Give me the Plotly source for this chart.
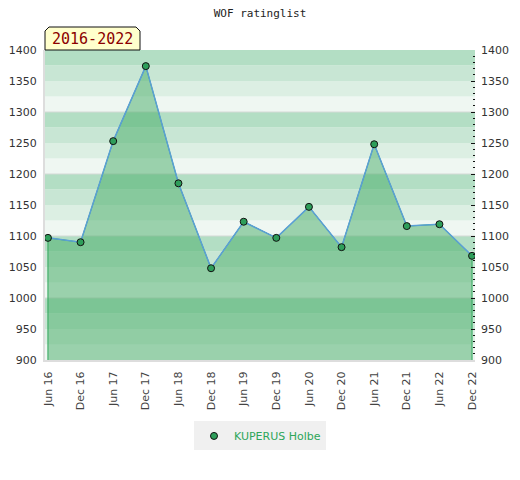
import plotly.graph_objects as go

# rating list every half year
periods = ["Jun 16", "Dec 16", "Jun 17", "Dec 17", "Jun 18", "Dec 18", "Jun 19",
           "Dec 19", "Jun 20", "Dec 20", "Jun 21", "Dec 21", "Jun 22", "Dec 22"]
ratings = [1097, 1090, 1253, 1374, 1185, 1048, 1123,
           1097, 1147, 1082, 1248, 1116, 1119, 1068]
player = "KUPERUS Holbe"
badge = "2016-2022"
y_min, y_max = 900, 1400

xs = list(range(len(periods)))

# page has an 8px body margin, so the figure is a bit smaller than the window
W, H = 512, 472
ML, MR, MT, MB = 37, 45, 42, 120
plot_w = W - ML - MR

# background bands, 4 shades per 100 points (top = darkest)
band_colors = ["#b3dec4", "#c8e6d4", "#dcefe3", "#eff7f2"]
shapes = []
for lo in range(y_min, y_max, 25):
    idx = 3 - ((lo - y_min) // 25) % 4
    shapes.append(dict(type="rect", xref="paper", yref="y", x0=0, x1=1,
                       y0=lo, y1=lo + 25, fillcolor=band_colors[idx],
                       line=dict(width=0), layer="below"))
for g in range(y_min + 100, y_max, 100):
    shapes.append(dict(type="line", xref="paper", yref="y", x0=0, x1=1,
                       y0=g, y1=g, line=dict(color="#d4d9d6", width=1), layer="below"))

# badge box with cut top corners
shapes.append(dict(type="path", xref="paper", yref="paper", xsizemode="pixel",
                   ysizemode="pixel", xanchor=0, yanchor=1,
                   path="M 0,0 L 0,19 L 4,23 L 91,23 L 95,19 L 95,0 Z",
                   fillcolor="#ffffcc", line=dict(color="#111", width=1), layer="above"))

fig = go.Figure()

# area under the line, closed down to the bottom
fig.add_trace(go.Scatter(
    x=[xs[0]] + xs + [xs[-1]], y=[y_min] + ratings + [y_min],
    mode="lines", fill="toself", fillcolor="rgba(69,172,102,0.5)",
    line=dict(color="#2ea65a", width=1), hoverinfo="skip", showlegend=False))

fig.add_trace(go.Scatter(
    x=xs, y=ratings, mode="lines+markers", name=player, showlegend=False,
    line=dict(color="#5b9fd6", width=1.5),
    marker=dict(color="#2e9e5a", size=7, line=dict(color="#111", width=1))))

# legend entry shows only the marker
fig.add_trace(go.Scatter(
    x=[None], y=[None], mode="markers", name=player,
    marker=dict(color="#2e9e5a", size=7, line=dict(color="#111", width=1))))

# dummy trace so the right axis shows
fig.add_trace(go.Scatter(x=[xs[0]], y=[ratings[0]], yaxis="y2", mode="markers",
                         marker=dict(opacity=0), showlegend=False, hoverinfo="skip"))

fig.update_layout(
    width=W, height=H,
    margin=dict(l=ML, r=MR, t=MT, b=MB),
    paper_bgcolor="white", plot_bgcolor="white",
    title=dict(text="WOF ratinglist", x=(ML + plot_w / 2) / W, y=1 - 5 / H,
               xanchor="center", yanchor="middle",
               font=dict(family="DejaVu Sans Mono", size=11, color="#222")),
    font=dict(family="DejaVu Sans", size=11, color="#333"),
    xaxis=dict(range=[-0.09, len(periods) - 1 + 0.09], tickvals=xs, ticktext=periods,
               tickangle=-90, showgrid=False, zeroline=False, showline=True,
               linecolor="#dddddd", linewidth=2, ticks="", automargin=False,
               ticklabelstandoff=5, tickfont=dict(size=11, color="#444")),
    yaxis=dict(range=[y_min, y_max], dtick=50, showgrid=False, zeroline=False,
               showline=True, linecolor="#dddddd", linewidth=2, ticks="",
               automargin=False, ticklabelstandoff=4,
               tickfont=dict(size=11, color="#333")),
    yaxis2=dict(range=[y_min, y_max], dtick=50, overlaying="y", side="right",
                showgrid=False, zeroline=False, showline=False, automargin=False,
                ticks="inside", ticklen=4, tickcolor="#111", ticklabelstandoff=5,
                minor=dict(dtick=10, ticks="inside", ticklen=2, tickcolor="#111"),
                tickfont=dict(size=11, color="#333")),
    shapes=shapes,
    legend=dict(orientation="h", x=0.5, xanchor="center", y=-0.245, yanchor="middle",
                bgcolor="#f0f0f0", font=dict(size=11, color="#2ea65a"),
                itemwidth=30),
    annotations=[dict(text=badge, xref="paper", yref="paper", x=47.5 / plot_w, y=1,
                      xanchor="center", yanchor="middle", yshift=11, showarrow=False,
                      font=dict(family="DejaVu Sans Mono", size=15, color="#8b0000"))],
)

fig.write_html("out.html")
